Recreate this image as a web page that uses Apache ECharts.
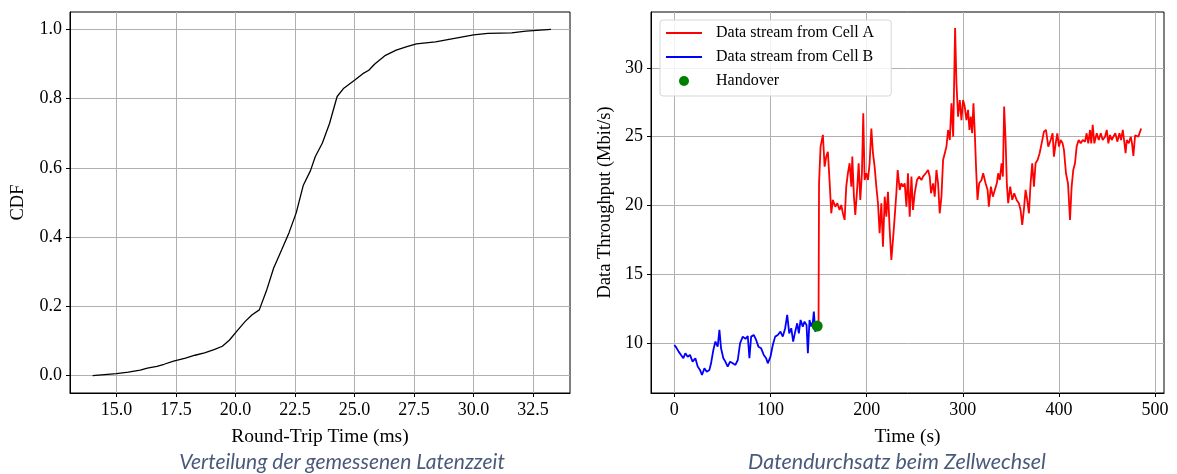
<!DOCTYPE html>
<html><head><meta charset="utf-8">
<script src="https://cdn.jsdelivr.net/npm/echarts@6/dist/echarts.min.js"></script>
<style>html,body{margin:0;padding:0;background:#fff}#c{width:1177px;height:474px}</style>
</head><body><div id="c"></div>
<script>
// ---- Left chart: CDF of round-trip time ----
const cdfRtt  = [14.0,14.5,15.0,15.5,16.0,16.3,16.7,17.0,17.4,17.9,18.3,18.7,19.1,19.45,19.75,20.05,20.4,20.7,21.0,21.3,21.6,21.95,22.25,22.55,22.85,23.15,23.35,23.65,23.95,24.1,24.27,24.55,25.0,25.35,25.6,25.85,26.3,26.75,27.2,27.6,28.4,29.2,30.0,30.6,31.6,32.2,33.25];
const cdfProb = [0.0,0.003,0.006,0.01,0.016,0.022,0.027,0.033,0.042,0.051,0.059,0.066,0.075,0.085,0.103,0.128,0.156,0.176,0.19,0.245,0.31,0.365,0.413,0.47,0.55,0.592,0.632,0.672,0.728,0.765,0.806,0.83,0.853,0.872,0.882,0.9,0.925,0.94,0.95,0.958,0.964,0.974,0.984,0.988,0.99,0.995,1.0];
const rttTicks = [15.0,17.5,20.0,22.5,25.0,27.5,30.0,32.5];
const cdfTicks = [0.0,0.2,0.4,0.6,0.8,1.0];

// ---- Right chart: throughput during handover ----
const timeB = [0,1.7,4.5,7,9.4,11.5,13.9,16.3,19,21.9,24.3,26.7,28.8,31.3,33.7,36.5,38.2,40.6,42.7,45.1,46.9,48.6,51,53.1,55.5,58,60.8,63.5,66,68.4,71.2,74,76.4,78.1,79.9,82.6,85.1,87.5,90.3,93,95.5,97.2,100,102.4,104.9,107.6,110.4,112.8,115.3,117.4,119.5,121.6,123.6,125.7,127.8,129.5,131.3,133.6,135.4,137.5,138.9,140.6,142.4,144.1,145.1,146.6,148.6];
const throughputB = [9.85,9.7,9.37,9.13,8.89,9.25,9.0,9.13,8.64,8.89,8.28,8.04,7.67,8.16,7.91,8.04,8.52,9.49,10.1,9.73,10.95,9.61,8.89,8.64,8.28,8.64,8.52,8.4,8.76,9.98,10.46,10.3,10.5,8.89,10.46,10.58,10.22,9.73,9.61,9.13,8.89,8.52,9.0,9.85,10.46,10.58,10.82,10.46,11.07,12.04,10.7,11.07,10.1,10.82,11.43,10.7,11.67,11.19,11.55,11.31,9.25,11.67,11.19,11.55,12.28,10.82,11.23];
const timeA = [148.6,150,150.5,152.1,154.5,156.3,158,159.7,161.5,163.2,164.9,167.4,169.5,171.9,173.6,175.3,177.1,178.8,180.5,182.3,184.1,185.1,186.8,188.2,190.3,191.7,193.4,195.1,196.5,197.9,199.7,201.4,203.1,204.9,206.6,208.3,210.1,211.8,213.5,215.3,217,218.8,220.5,222.2,224,225.7,227.4,229.2,230.9,232.3,234.4,236.1,237.8,239.6,241.4,243,244.8,246.6,248.2,250,252.4,254.5,257,258.6,261.5,263.9,265.6,267,269.1,270.8,272.6,274.3,276,277.8,279.5,281.3,283,284.7,286.5,288.2,290,292,293.4,295.1,296.9,298.6,300.3,302,303.8,305.5,306.9,308.3,309.7,311.1,312.5,313.9,315.3,317,319.5,321.2,323.7,325.8,327.1,329.2,331.3,333.3,335.4,336.8,338.5,340.3,341.7,343,344.5,345.8,347.2,349.3,351.4,353.5,356,358.3,360.1,361.8,363.5,365.3,367,368.8,370.5,372.2,374,375.7,377.8,379.9,382,384.4,386.5,388.9,391.4,393.4,394.8,396.6,398.3,400,401.8,403.8,405.2,407.3,409.4,411.5,413.2,414.9,416.7,418.4,420.5,422.6,424.7,427.1,428.8,430.5,432.3,433.6,435.1,436.8,439.3,441.4,443.5,445.5,447.9,449.7,451.4,453.1,454.9,456.6,458.6,460.8,462.9,464.6,466.4,467.7,469.3,470.5,472.6,474.7,476,477.4,479.2,481,482.6,484,485.5];
const throughputA = [11.23,11.5,21.6,24.28,25.13,22.82,23.55,23.91,21.73,19.43,20.4,19.91,20.16,19.67,20.04,19.43,18.95,21.37,22.34,23.07,21.37,23.55,20.64,19.31,21.37,23.07,20.4,22.34,26.7,21.85,22.34,21.85,23.07,25.6,23.8,22.82,21.37,20.16,17.98,20.16,17.0,20.64,19.19,21.0,18.22,16.04,17.5,19.19,20.89,22.58,21.13,21.61,21.37,21.61,19.91,22.34,19.19,22.1,19.67,20.89,21.85,22.1,21.85,22.1,22.34,22.58,22.1,20.89,21.61,20.64,22.58,21.61,19.43,20.64,23.3,23.8,24.28,25.49,24.76,27.43,25.0,32.9,28.9,26.46,27.67,26.2,27.67,27.2,26.2,26.95,25.49,26.46,25.25,27.43,25.25,22.58,20.4,21.61,21.85,22.34,21.61,21.13,19.91,21.37,20.64,21.13,21.61,22.34,21.85,23.07,22.1,27.19,24.76,21.61,20.16,21.37,20.4,20.89,20.4,20.16,19.67,18.58,19.67,21.13,20.4,19.43,21.61,23.07,21.37,23.07,23.3,23.8,24.52,25.37,25.49,24.28,24.76,25.25,23.55,24.52,25.25,24.28,24.76,24.52,24.04,22.34,21.61,18.95,21.37,22.58,23.07,24.28,24.76,24.52,24.76,24.64,25.25,24.52,25.49,24.52,25.86,24.52,25.25,24.76,25.25,24.76,25.0,25.49,24.52,25.13,24.76,25.0,25.25,24.64,25.25,24.76,25.49,24.76,23.8,24.76,24.52,25.0,24.52,23.6,25.1,25.13,25.0,25.3,25.6];
const handoverTime = [148.6];
const handoverThroughput = [11.23];
const timeTicks = [0,100,200,300,400,500];
const throughputTicks = [10,15,20,25,30];

const SERIF = "'Liberation Serif','Times New Roman','DejaVu Serif',serif";
const zip = (a,b) => a.map((v,i)=>[v,b[i]]);

function valAxis(gridIndex, min, max, ticks, fmt, name, nameGap, nameSize) {
  return {
    type:'value', gridIndex, min, max, scale:true,
    name, nameLocation:'middle', nameGap,
    nameTextStyle:{fontFamily:SERIF, fontSize:nameSize, color:'#000'},
    axisLine:{show:true, onZero:false, lineStyle:{color:'#000', width:1}},
    axisTick:{show:true, inside:false, length:4, lineStyle:{color:'#000', width:1}, customValues:ticks},
    axisLabel:{show:true, customValues:ticks, formatter:fmt, fontFamily:SERIF, fontSize:18, color:'#000', margin:8},
    splitLine:{show:true, lineStyle:{color:'#b0b0b0', width:1}}
  };
}

const LINE_ICON = 'path://M0,0 L36,0 L36,2 L0,2 Z';

const chart = echarts.init(document.getElementById('c'), null, {renderer:'canvas'});
chart.setOption({
  animation:false,
  backgroundColor:'#fff',
  grid:[
    {left:70, top:12, width:500, height:381, show:true, borderColor:'#000', borderWidth:1, backgroundColor:'#fff'},
    {left:651, top:12, width:513, height:381, show:true, borderColor:'#000', borderWidth:1, backgroundColor:'#fff'}
  ],
  xAxis:[
    valAxis(0, 13.05, 34.05, rttTicks, v=>v.toFixed(1), 'Round-Trip Time (ms)', 34, 19.5),
    valAxis(1, -24.25, 509.25, timeTicks, v=>String(v), 'Time (s)', 34, 19.5)
  ],
  yAxis:[
    valAxis(0, -0.05, 1.05, cdfTicks, v=>v.toFixed(1), 'CDF', 42, 18.5),
    valAxis(1, 6.36, 34.07, throughputTicks, v=>String(v), 'Data Throughput (Mbit/s)', 36, 18.5)
  ],
  legend:{
    show:true, orient:'vertical', left:660, top:20,
    data:[
      {name:'Data stream from Cell A', icon:LINE_ICON},
      {name:'Data stream from Cell B', icon:LINE_ICON},
      {name:'Handover', icon:'circle'}
    ],
    itemWidth:36, itemHeight:10, itemGap:8,
    textStyle:{fontFamily:SERIF, fontSize:16, color:'#000', lineHeight:16, padding:[0,0,0,9]},
    borderColor:'#d6d6d6', borderWidth:1, borderRadius:3, padding:[5,17,7,6],
    backgroundColor:'rgba(255,255,255,0.85)'
  },
  series:[
    {type:'line', name:'CDF', xAxisIndex:0, yAxisIndex:0, data:zip(cdfRtt,cdfProb), symbol:'none', lineStyle:{color:'#000', width:1.3}, itemStyle:{color:'#000'}},
    {type:'line', name:'Data stream from Cell A', xAxisIndex:1, yAxisIndex:1, data:zip(timeA,throughputA), symbol:'none', lineStyle:{color:'#ff0000', width:1.8}, itemStyle:{color:'#ff0000'}},
    {type:'line', name:'Data stream from Cell B', xAxisIndex:1, yAxisIndex:1, data:zip(timeB,throughputB), symbol:'none', lineStyle:{color:'#0000ff', width:1.8}, itemStyle:{color:'#0000ff'}},
    {type:'scatter', name:'Handover', xAxisIndex:1, yAxisIndex:1, data:zip(handoverTime,handoverThroughput), symbol:'circle', symbolSize:11, itemStyle:{color:'#008000', opacity:1}, z:5}
  ],
  graphic:[
    {type:'text', x:342, y:462, style:{text:'Verteilung der gemessenen Latenzzeit', font:"italic 21px Lato", fill:'#4a5a7a', textAlign:'center', textVerticalAlign:'middle'}},
    {type:'text', x:897, y:462, style:{text:'Datendurchsatz beim Zellwechsel', font:"italic 21.5px Lato", fill:'#4a5a7a', textAlign:'center', textVerticalAlign:'middle'}}
  ]
});
</script>
</body></html>
